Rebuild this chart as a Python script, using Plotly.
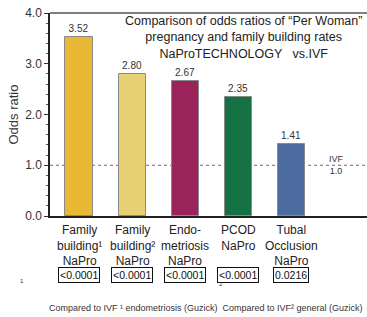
import plotly.graph_objects as go

categories = ["Family<br>building¹<br>NaPro", "Family<br>building²<br>NaPro",
              "Endo-<br>metriosis<br>NaPro", "PCOD<br>NaPro<br> ", "Tubal<br>Occlusion<br>NaPro"]
odds_ratios = [3.52, 2.80, 2.67, 2.35, 1.41]
p_values = ["<0.0001", "<0.0001", "<0.0001", "<0.0001", "0.0216"]
bar_colors = ["#E9B935", "#E8D175", "#9A2459", "#147244", "#4C6B9F"]
ivf_value = 1.0
y_ticks = [0, 1, 2, 3, 4]

xs = list(range(len(categories)))
FONT = "Liberation Sans, Arial, sans-serif"

fig = go.Figure()
fig.add_trace(go.Bar(
    x=xs, y=odds_ratios, width=0.51,
    marker=dict(color=bar_colors, line=dict(color="#8a8a8a", width=1)),
    text=[f"{v:.2f}" for v in odds_ratios], textposition="outside",
    textfont=dict(size=10, color="#333", family=FONT), cliponaxis=False,
))

# IVF reference line
fig.add_shape(type="line", xref="paper", yref="y", x0=0, x1=1, y0=ivf_value, y1=ivf_value,
              line=dict(color="#8B4F9E", width=1, dash="dot"), layer="below")
# top border
fig.add_shape(type="line", xref="paper", yref="paper", x0=0, x1=1, y0=1, y1=1,
              line=dict(color="#555", width=1.5))

ann = []
ann.append(dict(x=0.61, y=1, xref="paper", yref="paper", yanchor="top", xanchor="center", yshift=1,
                text="Comparison of odds ratios of \u201cPer Woman\u201d<br>pregnancy and family building rates<br>NaProTECHNOLOGY   vs.IVF",
                showarrow=False, font=dict(size=12.5, color="#222", family=FONT)))
ann.append(dict(x=4.85, y=ivf_value, xref="x", yref="y", text="IVF<br>1.0", showarrow=False,
                font=dict(size=9, color="#333", family=FONT), yshift=0))
for i, (c, p) in enumerate(zip(categories, p_values)):
    ann.append(dict(x=i, y=0, xref="x", yref="paper", yanchor="top", yshift=-5, text=c,
                    showarrow=False, font=dict(size=12, color="#222", family=FONT)))
    ann.append(dict(x=i, y=0, xref="x", yref="paper", yanchor="middle", yshift=-59, text=p,
                    showarrow=False, font=dict(size=10.5, color="#111", family=FONT),
                    bordercolor="#111", borderwidth=1, borderpad=1, bgcolor="white"))
ann.append(dict(x=-0.1, y=0, xref="paper", yref="paper", yshift=-70, text="1", showarrow=False,
                font=dict(size=6, color="#333", family=FONT)))
ann.append(dict(x=0.54, y=0, xref="paper", yref="paper", yshift=-73, text="2", showarrow=False,
                font=dict(size=6, color="#333", family=FONT)))
ann.append(dict(x=-0.01, y=0, xref="paper", yref="paper", yshift=-99, xanchor="left",
                text="Compared to IVF \u00b9 endometriosis (Guzick)  Compared to IVF\u00b2 general (Guzick)",
                showarrow=False, font=dict(size=9, color="#333", family=FONT)))

fig.update_layout(
    width=367, height=317, margin=dict(l=50, r=0, t=13, b=101),
    plot_bgcolor="white", paper_bgcolor="white", showlegend=False,
    font=dict(family=FONT),
    annotations=ann, bargap=0,
    xaxis=dict(range=[-0.547, 5.43], showticklabels=False, ticks="", showgrid=False, zeroline=False,
               showline=True, linecolor="#222", linewidth=1.5),
    yaxis=dict(range=[0, 4], tickvals=y_ticks, ticktext=[f"{v:.1f}" for v in y_ticks],
               ticks="outside", ticklen=4, tickcolor="#333", showgrid=False, zeroline=False,
               showline=True, linecolor="#222", linewidth=1.5,
               tickfont=dict(size=12, color="#333", family=FONT),
               minor=dict(dtick=0.2, ticks="outside", ticklen=2, tickcolor="#555"),
               title=dict(text="Odds ratio", font=dict(size=13, color="#333", family=FONT), standoff=4)),
)
fig.write_html("out.html", config={"displayModeBar": False},
               post_script="document.body.style.margin='0';document.body.style.overflow='hidden';")
